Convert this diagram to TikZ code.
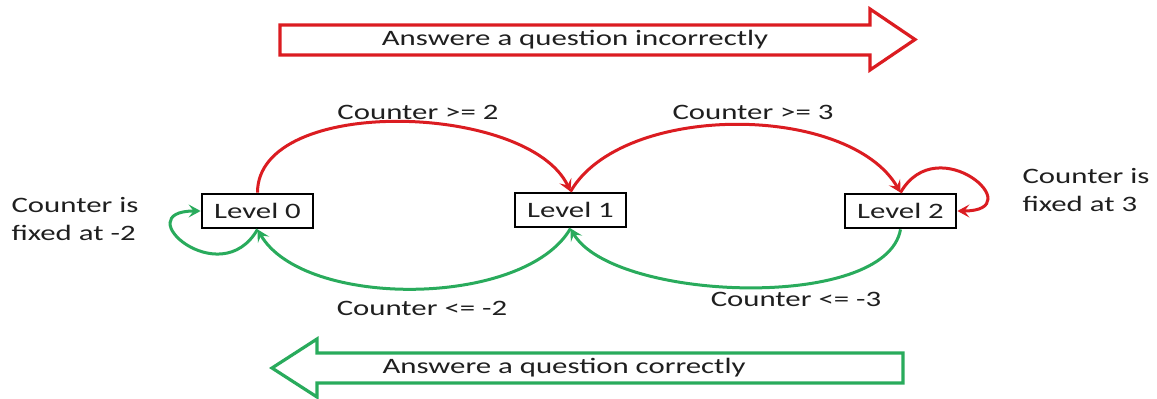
\documentclass[tikz,border=0pt]{standalone}
\usepackage{fontspec}
\setmainfont{Carlito}[FakeStretch=1.4]
\usetikzlibrary{arrows.meta}
\definecolor{answerred}{rgb}{0.86,0.11,0.13}
\definecolor{answergreen}{rgb}{0.16,0.67,0.36}
\definecolor{textgray}{rgb}{0.12,0.12,0.12}
\tikzset{
  levelbox/.style={
    draw=black,
    line width=2.8pt,
    fill=white,
    minimum width=111pt,
    minimum height=34pt,
    inner sep=2pt,
    text=textgray,
    font=\fontsize{22}{26}\selectfont
  },
  cond/.style={
    text=textgray,
    inner sep=0pt,
    font=\fontsize{22}{28}\selectfont
  },
  note/.style={
    cond,
    align=left
  },
  climb/.style={
    -{Stealth[length=12pt,width=13pt,inset=5pt]},
    line width=3pt,
    answerred
  },
  fall/.style={
    -{Stealth[length=12pt,width=13pt,inset=5pt]},
    line width=3pt,
    answergreen
  },
  bigarrow/.style={
    line width=3.2pt,
    line join=miter,
    fill=white
  }
}
\begin{document}
\begin{tikzpicture}[x=1pt,y=1pt]
\useasboundingbox (0,0) rectangle (1157,399);
% big arrows
\draw[bigarrow, draw=answerred] (280,374) -- (870,374) -- (870,390) -- (915,359.5) -- (870,329) -- (870,344) -- (280,344) -- cycle;
\node[cond] (wrong) at (575,359) {Answere a question incorrectly};
\draw[bigarrow, draw=answergreen] (903,46) -- (317,46) -- (317,60) -- (272,31) -- (317,2) -- (317,16) -- (903,16) -- cycle;
\node[cond] (right) at (564,31) {Answere a question correctly};
% levels
\node[levelbox] (l0) at (257.5,188) {Level 0};
\node[levelbox] (l1) at (570.5,189) {Level 1};
\node[levelbox] (l2) at (900.5,188) {Level 2};
% transitions
\draw[climb] (l0.north) to[out=90,in=115,looseness=0.8] (l1.north);
\draw[climb] (l1.north) to[out=60,in=120,looseness=0.8] (l2.north);
\draw[climb] (l2.north) to[out=60,in=0,looseness=3.2] (l2.east);
\draw[fall] (l2.south) to[out=-100,in=-60,looseness=0.65] (l1.south);
\draw[fall] (l1.south) to[out=-120,in=-60,looseness=0.75] (l0.south);
\draw[fall] (l0.south) to[out=-120,in=180,looseness=3.2] (l0.west);
% labels
\node[cond] (up0) at (418,287) {Counter >= 2};
\node[cond] (up1) at (753,287) {Counter >= 3};
\node[cond] (down1) at (422,91) {Counter <= -2};
\node[cond] (down2) at (796,100) {Counter <= -3};
\node[note] (fix0) at (75,180) {Counter is\\fixed at -2};
\node[note] (fix2) at (1086,209) {Counter is\\fixed at 3};
\end{tikzpicture}
\end{document}
